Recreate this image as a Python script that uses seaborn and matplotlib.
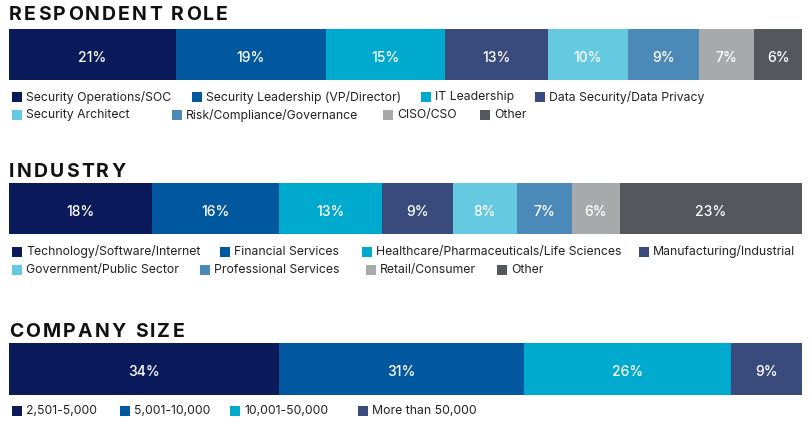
import matplotlib
matplotlib.use("Agg")
import matplotlib.pyplot as plt
from matplotlib.patches import Rectangle
import seaborn as sns
import numpy as np

# ---- data ----
role_labels = ["Security Operations/SOC", "Security Leadership (VP/Director)", "IT Leadership",
               "Data Security/Data Privacy", "Security Architect", "Risk/Compliance/Governance",
               "CISO/CSO", "Other"]
role_values = [21, 19, 15, 13, 10, 9, 7, 6]

industry_labels = ["Technology/Software/Internet", "Financial Services",
                   "Healthcare/Pharmaceuticals/Life Sciences", "Manufacturing/Industrial",
                   "Government/Public Sector", "Professional Services", "Retail/Consumer", "Other"]
industry_values = [18, 16, 13, 9, 8, 7, 6, 23]

size_labels = ["2,501-5,000", "5,001-10,000", "10,001-50,000", "More than 50,000"]
size_values = [34, 31, 26, 9]

palette = ["#0B1A5B", "#02589E", "#00AACE", "#394A7C", "#66C9E2", "#4A89B8", "#A8A9AB", "#54575C"]

W, H = 812, 423
sns.set_theme(style="white")
plt.rcParams['font.family'] = ['Inter', 'DejaVu Sans']
fig = plt.figure(figsize=(W / 100, H / 100), dpi=100)
renderer = fig.canvas.get_renderer()


def fx(x):
    return x / W


def fy(y):
    return 1 - y / H


def text_width_px(s, **kw):
    t = fig.text(0, 0, s, **kw)
    w = t.get_window_extent(renderer=renderer).width
    t.remove()
    return w


def spaced_title(x, y, s, tracking, **kw):
    ref = text_width_px("I", **kw)
    for k, ch in enumerate(s):
        if ch == " ":
            continue
        off = (text_width_px(s[:k] + "I", **kw) - ref) if k else 0.0
        fig.text(fx(x + off + k * tracking), fy(y), ch, ha="left", va="center", **kw)


sections = [
    dict(title="RESPONDENT ROLE", title_y=15, bar=(29, 80), labels=role_labels, values=role_values,
         legend=[(12, 97), (192, 97), (421, 97), (535, 97), (12, 115), (172, 115), (383, 115), (480, 115)]),
    dict(title="INDUSTRY", title_y=172, bar=(183, 234), labels=industry_labels, values=industry_values,
         legend=[(12, 252), (220, 252), (362, 252), (639, 252), (12, 270), (200, 270), (366, 270), (497, 270)]),
    dict(title="COMPANY SIZE", title_y=332, bar=(343, 395), labels=size_labels, values=size_values,
         legend=[(12, 411), (120, 411), (230, 411), (358, 411)]),
]

title_kw = dict(fontsize=14, fontweight="bold", color="#111111")

for sec in sections:
    top, bottom = sec["bar"]
    ax = fig.add_axes([fx(9), fy(bottom), 793 / W, (bottom - top) / H])
    vals = np.array(sec["values"], dtype=float)
    cum = np.cumsum(vals)
    for i in reversed(range(len(vals))):
        sns.barplot(x=[cum[i]], y=["bar"], orient="h", color=palette[i], saturation=1,
                    width=1.0, ax=ax, linewidth=0)
    for i, v in enumerate(vals):
        ax.text(cum[i] - v / 2, 0.06, f"{int(v)}%", ha="center", va="center",
                color="white", fontsize=10, fontweight="medium")
    ax.set_xlim(0, cum[-1])
    ax.set_ylim(0.5, -0.5)
    ax.axis("off")

    spaced_title(9, sec["title_y"], sec["title"], 2.2, **title_kw)

    for i, (lab, (lx, ly)) in enumerate(zip(sec["labels"], sec["legend"])):
        fig.add_artist(Rectangle((fx(lx), fy(ly + 5)), 10 / W, 10 / H,
                                 transform=fig.transFigure, color=palette[i], lw=0))
        fig.text(fx(lx + 14), fy(ly), lab, ha="left", va="center", fontsize=8.8, color="#222222")

fig.savefig("out.png", dpi=100)
